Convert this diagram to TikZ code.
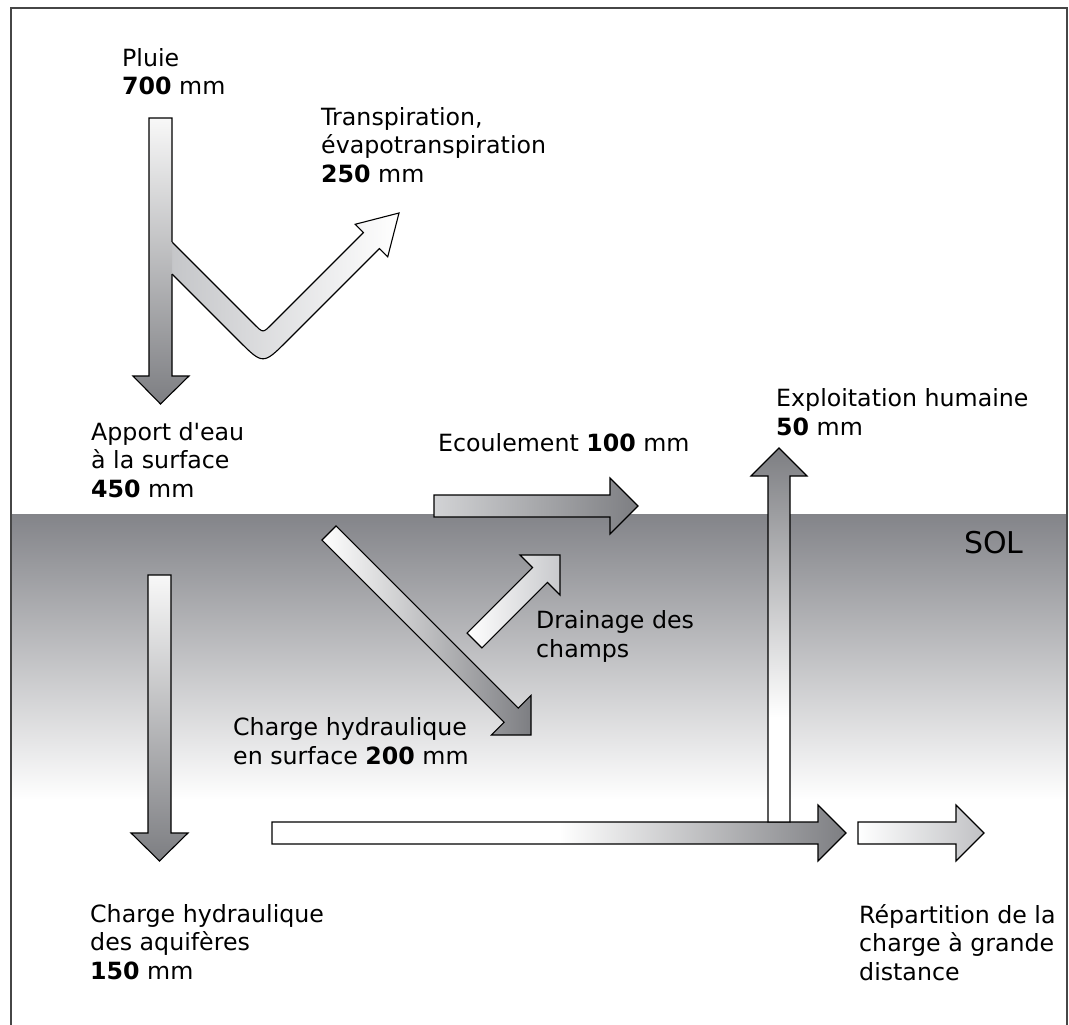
\documentclass[tikz,border=0pt]{standalone}
\usepackage{fontspec}
\setmainfont{DejaVu Sans}[Ligatures=TeXOff]
\definecolor{dk}{RGB}{125,126,130}
\definecolor{soltop}{RGB}{131,132,137}
\definecolor{lt}{RGB}{248,248,248}
\definecolor{brl}{RGB}{197,198,201}
\definecolor{ecl}{RGB}{210,211,213}
\definecolor{sml}{RGB}{192,193,196}
\definecolor{drr}{RGB}{200,201,204}
\definecolor{framec}{RGB}{70,70,70}
\pgfdeclareverticalshading{exploitsh}{100bp}{color(0bp)=(white); color(39bp)=(white); color(75bp)=(dk); color(100bp)=(dk)}
\pgfdeclarehorizontalshading{bottomsh}{100bp}{color(0bp)=(white); color(50bp)=(white); color(75bp)=(dk); color(100bp)=(dk)}
\tikzset{
  lbl/.style={anchor=base west, inner sep=0pt, align=left, font=\fontsize{23.7}{28.5}\selectfont},
  arr/.style={draw=black, line width=1.1pt, line join=miter},
}
\begin{document}
\begin{tikzpicture}[x=1pt,y=-1pt]
\useasboundingbox (0,0) rectangle (1069,1025);
\fill[white] (0,0) rectangle (1069,1025);
% soil band
\shade[top color=soltop, bottom color=white] (11,514) rectangle (1067,800);
\draw[framec, line width=1.5pt] (11,1025) -- (11,8) -- (1067,8) -- (1067,1025);

% branch (transpiration)
\shade[left color=brl, right color=white]
  (172,242) -- (254.5,324.5) .. controls (263,333) .. (271.5,324.5) -- (363.4,232.6) -- (355.1,224.3) -- (399,213) -- (387.7,256.9) -- (379.4,248.6) -- (287.75,340.25) .. controls (263,365) .. (238.25,340.25) -- (172,274) -- cycle;
\draw[arr]
  (172,242) -- (254.5,324.5) .. controls (263,333) .. (271.5,324.5) -- (363.4,232.6) -- (355.1,224.3) -- (399,213) -- (387.7,256.9) -- (379.4,248.6) -- (287.75,340.25) .. controls (263,365) .. (238.25,340.25) -- (172,274);

% pluie arrow
\shade[top color=lt, bottom color=dk] (149,118) -- (172,118) -- (172,376) -- (189,376) -- (160.5,404) -- (133,376) -- (149,376) -- cycle;
\draw[arr] (172,242) -- (172,118) -- (149,118) -- (149,376) -- (133,376) -- (160.5,404) -- (189,376) -- (172,376) -- (172,274);

% ecoulement
\shade[arr, left color=ecl, right color=dk] (434,495) -- (610,495) -- (610,478) -- (638,506) -- (610,534) -- (610,517) -- (434,517) -- cycle;

% charge en surface (diagonal)
\shade[arr, left color=white, right color=dk] (321.9,540.1) -- (336.1,525.9) -- (518.3,708.1) -- (531,695.4) -- (531,735) -- (491.4,735) -- (504.1,722.3) -- cycle;

% drainage
\shade[arr, left color=white, right color=drr] (467.1,633.1) -- (532.6,567.6) -- (520,555) -- (560,555) -- (560,595) -- (547.4,582.4) -- (481.9,647.9) -- cycle;

% aquifer down arrow
\shade[arr, top color=lt, bottom color=dk] (148,575) -- (171,575) -- (171,833) -- (188,833) -- (159.5,861) -- (131,833) -- (148,833) -- cycle;

% bottom horizontal arrow
\shade[arr, shading=bottomsh] (272,822) -- (818,822) -- (818,805) -- (846,833) -- (818,861) -- (818,844) -- (272,844) -- cycle;

% exploitation humaine
\shade[arr, shading=exploitsh] (768,822) -- (768,476) -- (751,476) -- (779,448) -- (807,476) -- (790,476) -- (790,822) -- cycle;

% small right arrow
\shade[arr, left color=white, right color=sml] (858,822) -- (956,822) -- (956,805) -- (984,833) -- (956,861) -- (956,844) -- (858,844) -- cycle;

% labels (anchor = baseline of last line)
\node[lbl] (pluie) at (122,95) {Pluie\\\textbf{700} mm};
\node[lbl] (transp) at (321,182) {Transpiration,\\évapotranspiration\\\textbf{250} mm};
\node[lbl] (apport) at (91,497) {Apport d'eau\\à la surface\\\textbf{450} mm};
\node[lbl] (ecoul) at (438,451) {Ecoulement \textbf{100} mm};
\node[lbl] (exploit) at (776,435) {Exploitation humaine\\\textbf{50} mm};
\node[lbl, font=\fontsize{30}{36}\selectfont] (sol) at (964,553) {SOL};
\node[lbl] (drain) at (536,657) {Drainage des\\champs};
\node[lbl] (chsurf) at (233,764) {Charge hydraulique\\en surface \textbf{200} mm};
\node[lbl] (aquif) at (90,979) {Charge hydraulique\\des aquifères\\\textbf{150} mm};
\node[lbl] (repart) at (859,980) {Répartition de la\\charge à grande\\distance};
\end{tikzpicture}
\end{document}
